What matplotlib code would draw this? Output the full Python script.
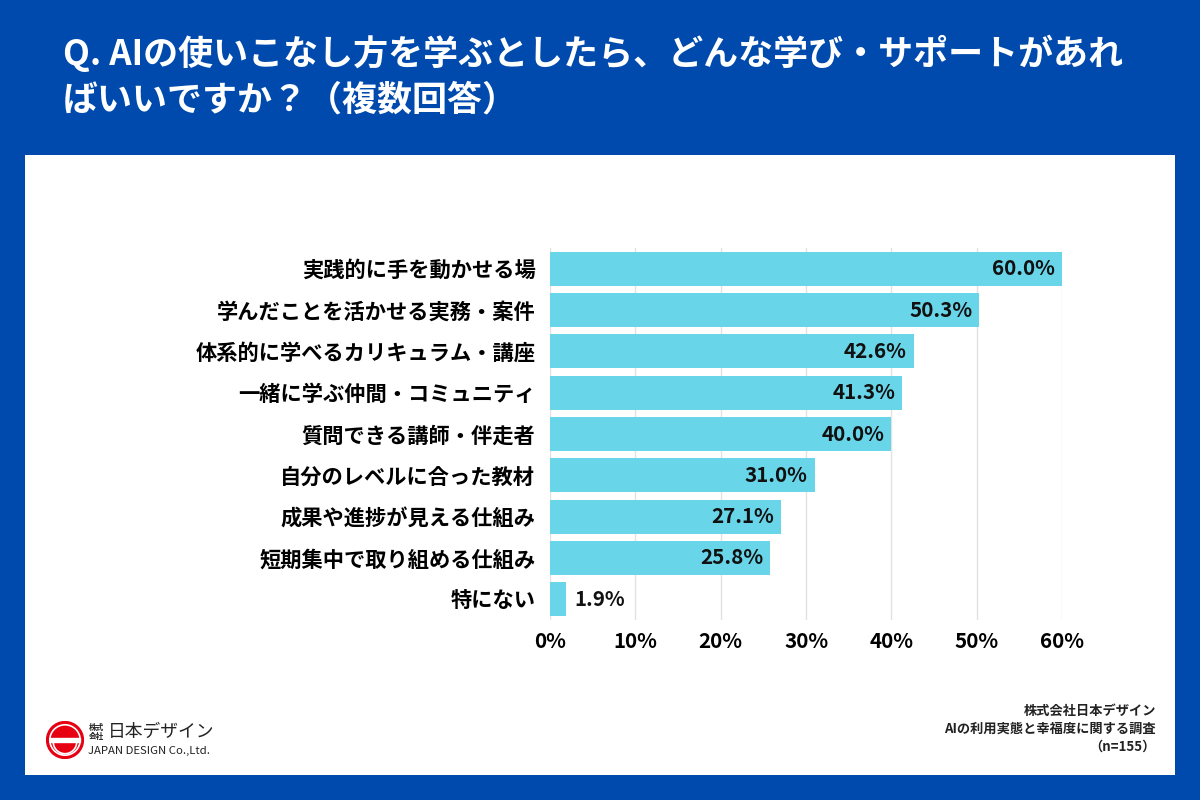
import matplotlib
matplotlib.use("Agg")
import matplotlib.pyplot as plt
import matplotlib.patches as mpatches

plt.rcParams['font.family'] = ['Noto Sans CJK JP', 'DejaVu Sans']

categories = ["実践的に手を動かせる場", "学んだことを活かせる実務・案件",
              "体系的に学べるカリキュラム・講座", "一緒に学ぶ仲間・コミュニティ",
              "質問できる講師・伴走者", "自分のレベルに合った教材",
              "成果や進捗が見える仕組み", "短期集中で取り組める仕組み", "特にない"]
values = [60.0, 50.3, 42.6, 41.3, 40.0, 31.0, 27.1, 25.8, 1.9]
xticks = [0, 10, 20, 30, 40, 50, 60]

title = "Q. AIの使いこなし方を学ぶとしたら、どんな学び・サポートがあれ\nばいいですか？（複数回答）"
source = "株式会社日本デザイン\nAIの利用実態と幸福度に関する調査\n（n=155）"

BLUE = "#004aad"
BAR = "#68d5e9"

fig = plt.figure(figsize=(12, 8), dpi=100)
fig.patch.set_facecolor(BLUE)

# white panel
panel = mpatches.Rectangle((25/1200, 1-775/800), 1150/1200, 620/800,
                           transform=fig.transFigure, facecolor="white",
                           edgecolor="none", zorder=-1)
fig.patches.append(panel)

fig.text(63/1200, 1-35/800, title, color="white", fontsize=25.2,
         fontweight="bold", va="top", ha="left", linespacing=1.35)

ax = fig.add_axes([550/1200, 1-620/800, 512/1200, 372/800])
ax.set_facecolor("none")
y = list(range(len(categories)))
ax.barh(y, values, height=0.82, color=BAR, zorder=2)
ax.set_xlim(0, 60)
ax.set_ylim(len(categories) - 0.5, -0.5)
ax.set_xticks(xticks)
ax.set_xticklabels([f"{t}%" for t in xticks], fontsize=14.8, fontweight="bold")
ax.set_yticks(y)
ax.set_yticklabels(categories, fontsize=15.3, fontweight="bold")
ax.tick_params(length=0, pad=10.5)
ax.tick_params(axis="x", pad=8)
ax.grid(axis="x", color="#e2e2e2", linewidth=1, zorder=1)
for s in ax.spines.values():
    s.set_visible(False)

for i, v in enumerate(values):
    if v > 10:
        ax.text(v - 0.8, i, f"{v:.1f}%", ha="right", va="center",
                fontsize=14.8, fontweight="bold", color="#111111", zorder=3)
    else:
        ax.text(v + 0.9, i, f"{v:.1f}%", ha="left", va="center",
                fontsize=14.8, fontweight="bold", color="#111111", zorder=3)

fig.text(1156/1200, 1-704/800, source, ha="right", va="top", fontsize=9.5,
         fontweight="bold", color="#222222", linespacing=1.35)

# logo
lax = fig.add_axes([46/1200, 1-759/800, 38/1200, 38/800])
lax.set_xlim(-1, 1)
lax.set_ylim(-1, 1)
lax.set_aspect("equal")
lax.axis("off")
lax.add_patch(mpatches.Circle((0, 0), 0.97, color="#e60012"))
lax.add_patch(mpatches.Circle((0, 0), 0.8, fill=False, edgecolor="white", linewidth=1.2))
lax.add_patch(mpatches.Rectangle((-0.8, -0.1), 1.6, 0.2, color="white"))
lax.add_patch(mpatches.Wedge((0, -0.1), 0.62, 180, 360, facecolor="none",
                             edgecolor="white", linewidth=1.2))
fig.text(89/1200, 1-723/800, "株式\n会社", fontsize=5.5, fontweight="bold",
         color="#222222", va="top", ha="left", linespacing=1.0)
fig.text(108/1200, 1-732/800, "日本デザイン", fontsize=12.8, color="#222222",
         va="center", ha="left")
fig.text(88/1200, 1-751/800, "JAPAN DESIGN Co.,Ltd.", fontsize=8.2,
         color="#222222", va="center", ha="left")

fig.savefig("out.png", dpi=100, facecolor=fig.get_facecolor())
